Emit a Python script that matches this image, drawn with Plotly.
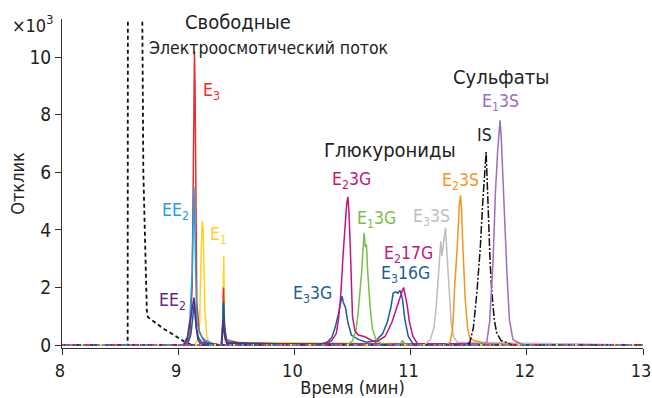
import plotly.graph_objects as go

FONT = "DejaVu Sans Condensed, Roboto, sans-serif"

# ---- data (time in min, response in x10^3) ----
eof_t = [8, 8.565, 8.567, 8.69, 8.70, 8.73, 8.74, 8.78, 8.84, 8.88, 8.93, 8.98, 9.02, 9.07, 9.12, 13]
eof_y = [0, 0, 12, 12, 6, 1.2, 0.97, 0.85, 0.67, 0.55, 0.44, 0.3, 0.2, 0.09, 0, 0]

e1_t = [8, 9.14, 9.17, 9.185, 9.195, 9.20, 9.207, 9.215, 9.22, 9.23, 9.245, 9.27, 9.38, 9.387, 9.392, 9.397, 9.405, 13]
e1_y = [0, 0, 0.2, 0.9, 2.8, 4.0, 4.3, 4.0, 3.0, 1.2, 0.3, 0.05, 0, 1.5, 3.1, 1.2, 0.1, 0]

e3_t = [8, 9.06, 9.10, 9.12, 9.13, 9.135, 9.14, 9.145, 9.15, 9.16, 9.18, 9.22, 9.30, 9.375, 9.385, 9.39, 9.395, 9.405, 9.45, 9.55, 13]
e3_y = [0, 0, 0.3, 2.0, 6.0, 9.0, 10.2, 9.0, 5.0, 1.5, 0.5, 0.15, 0.05, 0, 1.0, 2.0, 0.9, 0.2, 0.15, 0.05, 0]

ee2_t = [8, 9.04, 9.08, 9.10, 9.12, 9.13, 9.135, 9.14, 9.15, 9.16, 9.18, 9.20, 9.24, 9.30, 9.375, 9.385, 9.39, 9.395, 9.41, 9.45, 9.6, 13]
ee2_y = [0, 0, 0.3, 0.9, 2.5, 4.5, 5.5, 4.8, 2.0, 0.8, 0.5, 0.3, 0.15, 0.05, 0, 0.8, 1.5, 0.7, 0.2, 0.1, 0.05, 0]

e3g_t = [8, 9.08, 9.11, 9.13, 9.14, 9.15, 9.17, 9.20, 9.37, 9.385, 9.39, 9.40, 9.42,
         10.2, 10.28, 10.32, 10.35, 10.38, 10.40, 10.41, 10.42, 10.44, 10.46, 10.49, 10.55, 10.62,
         10.70, 10.76, 10.80, 10.83, 10.85, 10.87, 10.89, 10.91, 10.93, 10.95, 10.98, 11.02, 13]
e3g_y = [0, 0, 0.4, 1.2, 1.5, 0.8, 0.3, 0.1, 0, 0.8, 1.5, 0.6, 0.1,
         0, 0.1, 0.25, 0.6, 1.1, 1.5, 1.7, 1.5, 1.3, 0.8, 0.35, 0.2, 0.1,
         0.15, 0.4, 0.8, 1.3, 1.8, 1.85, 1.8, 1.9, 1.6, 0.9, 0.3, 0.05, 0]

ee2b_t = [8, 9.05, 9.08, 9.10, 9.115, 9.125, 9.136, 9.145, 9.155, 9.17, 9.19, 9.37, 9.385, 9.39, 9.40, 9.42, 13]
ee2b_y = [0, 0, 0.25, 0.77, 1.1, 1.3, 1.65, 1.2, 0.6, 0.2, 0.05, 0, 0.5, 0.9, 0.3, 0.05, 0]

e23g_t = [8, 10.25, 10.32, 10.36, 10.38, 10.40, 10.42, 10.435, 10.45, 10.46, 10.47, 10.48, 10.49, 10.50,
          10.52, 10.55, 10.60, 10.65, 10.70, 10.78, 10.84, 10.88, 10.91, 10.93, 10.94, 10.95, 10.97,
          10.99, 11.02, 11.06, 13]
e23g_y = [0, 0, 0.15, 0.4, 0.9, 1.8, 3.2, 4.2, 4.9, 5.15, 4.6, 3.5, 2.0, 1.0,
          0.5, 0.35, 0.3, 0.2, 0.1, 0.3, 0.8, 1.3, 1.7, 1.9, 2.0, 1.8, 1.4,
          0.8, 0.3, 0.05, 0]

e13g_t = [8, 10.45, 10.50, 10.53, 10.55, 10.57, 10.58, 10.59, 10.60, 10.61, 10.62, 10.63, 10.65, 10.67, 10.70, 10.75, 10.90, 10.93, 10.96, 13]
e13g_y = [0, 0, 0.15, 0.5, 1.2, 2.0, 2.6, 3.3, 3.9, 3.4, 3.5, 2.6, 1.4, 0.6, 0.2, 0.05, 0, 0.15, 0, 0]

e33s_t = [8, 11.12, 11.17, 11.20, 11.22, 11.24, 11.25, 11.26, 11.27, 11.28, 11.29, 11.30, 11.31, 11.33, 11.35, 11.37, 11.40, 13]
e33s_y = [0, 0, 0.2, 0.6, 1.3, 2.4, 3.0, 3.6, 3.1, 3.5, 3.9, 4.07, 3.4, 1.8, 0.7, 0.3, 0.1, 0]

e23s_t = [8, 11.30, 11.34, 11.36, 11.37, 11.38, 11.40, 11.41, 11.42, 11.43, 11.44, 11.45, 11.47, 11.49, 11.51, 11.55, 11.60, 11.65, 11.68, 13]
e23s_y = [0, 0, 0.1, 0.5, 1.2, 2.1, 3.3, 4.2, 4.9, 5.2, 4.6, 3.4, 1.6, 0.6, 0.25, 0.15, 0.12, 0.05, 0, 0]

is_t = [8, 11.48, 11.51, 11.54, 11.57, 11.60, 11.62, 11.64, 11.65, 11.66, 11.67, 11.685, 11.70, 11.72, 11.74, 11.78, 11.82, 11.88, 13]
is_y = [0, 0, 0.1, 0.6, 1.8, 3.4, 4.9, 6.2, 6.7, 5.6, 4.1, 2.8, 1.8, 0.9, 0.43, 0.15, 0.1, 0, 0]

e13s_t = [8, 11.60, 11.655, 11.68, 11.71, 11.73, 11.75, 11.76, 11.77, 11.78, 11.80, 11.815, 11.83, 11.85, 11.88, 11.92, 11.98, 13]
e13s_y = [0, 0, 0.1, 0.8, 2.96, 5.3, 6.8, 7.5, 7.8, 7.2, 5.0, 3.6, 2.4, 0.9, 0.2, 0.1, 0, 0]

baseline_t = [8, 13]
baseline_y = [0, 0]

x_ticks = [8, 9, 10, 11, 12, 13]
y_ticks = [0, 2, 4, 6, 8, 10]

series = [
    (eof_t, eof_y, "#111111", "4px,3px", 1.8, "ЭОП"),
    (e1_t, e1_y, "#ffd21f", "solid", 1.5, "E1"),
    (e3_t, e3_y, "#ec2b2b", "solid", 1.5, "E3"),
    (ee2_t, ee2_y, "#1ca3e3", "solid", 1.5, "EE2"),
    (e3g_t, e3g_y, "#1c5d98", "solid", 1.5, "E3G"),
    (ee2b_t, ee2b_y, "#5c2a80", "solid", 1.5, "EE2b"),
    (e13g_t, e13g_y, "#78bf45", "solid", 1.5, "E1-3G"),
    (e23g_t, e23g_y, "#c4147e", "solid", 1.5, "E2-3G"),
    (e33s_t, e33s_y, "#bdbdbd", "solid", 1.5, "E3-3S"),
    (e23s_t, e23s_y, "#f7941e", "solid", 1.5, "E2-3S"),
    (is_t, is_y, "#111111", "8px,2px,2px,2px", 1.5, "IS"),
    (e13s_t, e13s_y, "#9b6cc0", "solid", 1.5, "E1-3S"),
]

fig = go.Figure()
for t, y, c, d, w, n in series:
    fig.add_trace(go.Scatter(x=t, y=y, mode="lines", name=n,
                             line=dict(color=c, width=w, dash=d),
                             hoverinfo="skip"))

# multicoloured dotted noise along the baseline
base_cols = [("#c4147e", "2px,9px"), ("#1c5d98", "3px,13px"), ("#ffd21f", "2px,17px"),
             ("#5c2a80", "3px,11px"), ("#1ca3e3", "2px,19px"), ("#ec2b2b", "2px,23px")]
for c, d in base_cols:
    fig.add_trace(go.Scatter(x=baseline_t, y=baseline_y, mode="lines",
                             line=dict(color=c, width=2, dash=d), hoverinfo="skip"))

TXT = "#222222"
ann = [
    (9.515, 11.21, "Свободные", TXT, 20, "center"),
    (8.73, 10.31, "Электроосмотический поток", TXT, 17.5, "left"),
    (9.29, 8.82, "E<sub>3</sub>", "#ec2b2b", 17.5, "center"),
    (8.98, 4.65, "EE<sub>2</sub>", "#1ca3e3", 17.5, "center"),
    (9.35, 3.80, "E<sub>1</sub>", "#ffd21f", 17.5, "center"),
    (8.95, 1.50, "EE<sub>2</sub>", "#5c2a80", 17.5, "center"),
    (10.82, 6.78, "Глюкурониды", TXT, 20, "center"),
    (10.49, 5.73, "E<sub>2</sub>3G", "#c4147e", 17.5, "center"),
    (10.71, 4.35, "E<sub>1</sub>3G", "#78bf45", 17.5, "center"),
    (10.98, 3.14, "E<sub>2</sub>17G", "#c4147e", 17.5, "center"),
    (10.96, 2.45, "E<sub>3</sub>16G", "#1c5d98", 17.5, "center"),
    (10.16, 1.75, "E<sub>3</sub>3G", "#1c5d98", 17.5, "center"),
    (11.18, 4.42, "E<sub>3</sub>3S", "#bdbdbd", 17.5, "center"),
    (11.43, 5.68, "E<sub>2</sub>3S", "#f7941e", 17.5, "center"),
    (11.64, 7.30, "IS", TXT, 17.5, "center"),
    (11.77, 8.42, "E<sub>1</sub>3S", "#9b6cc0", 17.5, "center"),
    (11.78, 9.30, "Сульфаты", TXT, 20, "center"),
]
for x, y, s, c, fs, xa in ann:
    fig.add_annotation(x=x, y=y, text=s, showarrow=False, xanchor=xa, yanchor="middle",
                       font=dict(family=FONT, size=fs, color=c))

# "×10³" multiplier label, placed in paper coordinates left of the y axis top
fig.add_annotation(x=(10 - 62) / 581, y=1 + (19 - 24) / 329, xref="paper", yref="paper",
                   text="×10<sup>3</sup>", showarrow=False, xanchor="left", yanchor="middle",
                   font=dict(family=FONT, size=18, color=TXT))

fig.update_layout(
    width=652, height=398,
    margin=dict(l=62, r=9, t=19, b=50),
    paper_bgcolor="white", plot_bgcolor="white",
    showlegend=False,
    font=dict(family=FONT, size=18, color=TXT),
    xaxis=dict(range=[8, 13], tickvals=x_ticks, showline=True, linecolor="#333",
               linewidth=1, ticks="outside", ticklen=6, tickcolor="#333", showgrid=False,
               zeroline=False, automargin=False, ticklabeloverflow="allow",
               ticklabelshift=-2,
               title=dict(text="Время (мин)", standoff=2,
                          font=dict(family=FONT, size=18, color=TXT)),
               tickfont=dict(family=FONT, size=18, color=TXT)),
    yaxis=dict(range=[-0.1, 11.32], tickvals=y_ticks, showline=True, linecolor="#333",
               linewidth=1, ticks="outside", ticklen=6, tickcolor="#333", showgrid=False,
               zeroline=False, automargin=False,
               title=dict(text="Отклик", standoff=0,
                          font=dict(family=FONT, size=18, color=TXT)),
               tickfont=dict(family=FONT, size=19, color=TXT)),
)
fig.write_html("out.html")
